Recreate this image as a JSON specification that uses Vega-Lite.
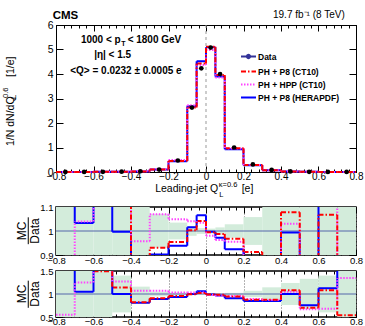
{
  "$schema": "https://vega.github.io/schema/vega-lite/v6.json",
  "background": "white",
  "padding": {"left": 1, "top": 9, "right": 0, "bottom": 0},
  "config": {
    "font": "Liberation Sans",
    "view": {"stroke": "black", "strokeWidth": 1},
    "axis": {"domain": false, "grid": false, "labelFont": "Liberation Sans", "labelFontSize": 10, "labelColor": "black", "tickColor": "black", "tickWidth": 1, "labelFlush": false, "labelOverlap": false, "format": "~g"}
  },
  "datasets": {
    "main_mc": [
      {"series":"PH + P8 (HERAPDF)","lo":-0.8,"hi":-0.7,"v":0.004},{"series":"PH + P8 (HERAPDF)","lo":-0.7,"hi":-0.6,"v":0.004},{"series":"PH + P8 (HERAPDF)","lo":-0.6,"hi":-0.5,"v":0.008},{"series":"PH + P8 (HERAPDF)","lo":-0.5,"hi":-0.4,"v":0.012},{"series":"PH + P8 (HERAPDF)","lo":-0.4,"hi":-0.3,"v":0.025},{"series":"PH + P8 (HERAPDF)","lo":-0.3,"hi":-0.2,"v":0.1},{"series":"PH + P8 (HERAPDF)","lo":-0.2,"hi":-0.1,"v":0.44},{"series":"PH + P8 (HERAPDF)","lo":-0.1,"hi":-0.05,"v":2.68},{"series":"PH + P8 (HERAPDF)","lo":-0.05,"hi":0,"v":4.52},{"series":"PH + P8 (HERAPDF)","lo":0,"hi":0.05,"v":5.09},{"series":"PH + P8 (HERAPDF)","lo":0.05,"hi":0.1,"v":3.9},{"series":"PH + P8 (HERAPDF)","lo":0.1,"hi":0.2,"v":0.93},{"series":"PH + P8 (HERAPDF)","lo":0.2,"hi":0.3,"v":0.28},{"series":"PH + P8 (HERAPDF)","lo":0.3,"hi":0.4,"v":0.07},{"series":"PH + P8 (HERAPDF)","lo":0.4,"hi":0.5,"v":0.02},{"series":"PH + P8 (HERAPDF)","lo":0.5,"hi":0.6,"v":0.007},{"series":"PH + P8 (HERAPDF)","lo":0.6,"hi":0.7,"v":0.005},{"series":"PH + P8 (HERAPDF)","lo":0.7,"hi":0.8,"v":0.004},
      {"series":"PH + HPP (CT10)","lo":-0.8,"hi":-0.7,"v":0.002},{"series":"PH + HPP (CT10)","lo":-0.7,"hi":-0.6,"v":0.005},{"series":"PH + HPP (CT10)","lo":-0.6,"hi":-0.5,"v":0.007},{"series":"PH + HPP (CT10)","lo":-0.5,"hi":-0.4,"v":0.013},{"series":"PH + HPP (CT10)","lo":-0.4,"hi":-0.3,"v":0.028},{"series":"PH + HPP (CT10)","lo":-0.3,"hi":-0.2,"v":0.11},{"series":"PH + HPP (CT10)","lo":-0.2,"hi":-0.1,"v":0.49},{"series":"PH + HPP (CT10)","lo":-0.1,"hi":-0.05,"v":2.72},{"series":"PH + HPP (CT10)","lo":-0.05,"hi":0,"v":4.37},{"series":"PH + HPP (CT10)","lo":0,"hi":0.05,"v":4.98},{"series":"PH + HPP (CT10)","lo":0.05,"hi":0.1,"v":3.86},{"series":"PH + HPP (CT10)","lo":0.1,"hi":0.2,"v":0.96},{"series":"PH + HPP (CT10)","lo":0.2,"hi":0.3,"v":0.29},{"series":"PH + HPP (CT10)","lo":0.3,"hi":0.4,"v":0.075},{"series":"PH + HPP (CT10)","lo":0.4,"hi":0.5,"v":0.021},{"series":"PH + HPP (CT10)","lo":0.5,"hi":0.6,"v":0.006},{"series":"PH + HPP (CT10)","lo":0.6,"hi":0.7,"v":0.003},{"series":"PH + HPP (CT10)","lo":0.7,"hi":0.8,"v":0.004},
      {"series":"PH + P8 (CT10)","lo":-0.8,"hi":-0.7,"v":0.004},{"series":"PH + P8 (CT10)","lo":-0.7,"hi":-0.6,"v":0.005},{"series":"PH + P8 (CT10)","lo":-0.6,"hi":-0.5,"v":0.007},{"series":"PH + P8 (CT10)","lo":-0.5,"hi":-0.4,"v":0.014},{"series":"PH + P8 (CT10)","lo":-0.4,"hi":-0.3,"v":0.025},{"series":"PH + P8 (CT10)","lo":-0.3,"hi":-0.2,"v":0.1},{"series":"PH + P8 (CT10)","lo":-0.2,"hi":-0.1,"v":0.45},{"series":"PH + P8 (CT10)","lo":-0.1,"hi":-0.05,"v":2.63},{"series":"PH + P8 (CT10)","lo":-0.05,"hi":0,"v":4.43},{"series":"PH + P8 (CT10)","lo":0,"hi":0.05,"v":5.11},{"series":"PH + P8 (CT10)","lo":0.05,"hi":0.1,"v":3.96},{"series":"PH + P8 (CT10)","lo":0.1,"hi":0.2,"v":0.97},{"series":"PH + P8 (CT10)","lo":0.2,"hi":0.3,"v":0.29},{"series":"PH + P8 (CT10)","lo":0.3,"hi":0.4,"v":0.075},{"series":"PH + P8 (CT10)","lo":0.4,"hi":0.5,"v":0.022},{"series":"PH + P8 (CT10)","lo":0.5,"hi":0.6,"v":0.007},{"series":"PH + P8 (CT10)","lo":0.6,"hi":0.7,"v":0.004},{"series":"PH + P8 (CT10)","lo":0.7,"hi":0.8,"v":0.002}
    ],
    "main_data": [
      {"x":-0.75,"y":0.003},{"x":-0.65,"y":0.004},{"x":-0.55,"y":0.006},{"x":-0.45,"y":0.012},{"x":-0.35,"y":0.03},{"x":-0.25,"y":0.1},{"x":-0.15,"y":0.47},{"x":-0.075,"y":2.63},{"x":-0.025,"y":4.23},{"x":0.025,"y":5.08},{"x":0.075,"y":4.0},{"x":0.15,"y":1.0},{"x":0.25,"y":0.31},{"x":0.35,"y":0.085},{"x":0.45,"y":0.022},{"x":0.55,"y":0.008},{"x":0.65,"y":0.004},{"x":0.75,"y":0.003}
    ],
    "r1": [
      {"series":"PH + P8 (HERAPDF)","lo":-0.8,"hi":-0.7,"v":1.2},{"series":"PH + P8 (HERAPDF)","lo":-0.7,"hi":-0.6,"v":1.033},{"series":"PH + P8 (HERAPDF)","lo":-0.6,"hi":-0.5,"v":1.2},{"series":"PH + P8 (HERAPDF)","lo":-0.5,"hi":-0.4,"v":0.997},{"series":"PH + P8 (HERAPDF)","lo":-0.4,"hi":-0.3,"v":0.8},{"series":"PH + P8 (HERAPDF)","lo":-0.3,"hi":-0.2,"v":0.902},{"series":"PH + P8 (HERAPDF)","lo":-0.2,"hi":-0.1,"v":0.939},{"series":"PH + P8 (HERAPDF)","lo":-0.1,"hi":-0.05,"v":1.016},{"series":"PH + P8 (HERAPDF)","lo":-0.05,"hi":0,"v":1.066},{"series":"PH + P8 (HERAPDF)","lo":0,"hi":0.05,"v":0.997},{"series":"PH + P8 (HERAPDF)","lo":0.05,"hi":0.1,"v":0.972},{"series":"PH + P8 (HERAPDF)","lo":0.1,"hi":0.2,"v":0.924},{"series":"PH + P8 (HERAPDF)","lo":0.2,"hi":0.3,"v":0.8},{"series":"PH + P8 (HERAPDF)","lo":0.3,"hi":0.4,"v":0.8},{"series":"PH + P8 (HERAPDF)","lo":0.4,"hi":0.5,"v":0.994},{"series":"PH + P8 (HERAPDF)","lo":0.5,"hi":0.6,"v":0.8},{"series":"PH + P8 (HERAPDF)","lo":0.6,"hi":0.7,"v":1.2},{"series":"PH + P8 (HERAPDF)","lo":0.7,"hi":0.8,"v":1.2},
      {"series":"PH + HPP (CT10)","lo":-0.8,"hi":-0.7,"v":0.8},{"series":"PH + HPP (CT10)","lo":-0.7,"hi":-0.6,"v":1.04},{"series":"PH + HPP (CT10)","lo":-0.6,"hi":-0.5,"v":1.2},{"series":"PH + HPP (CT10)","lo":-0.5,"hi":-0.4,"v":1.2},{"series":"PH + HPP (CT10)","lo":-0.4,"hi":-0.3,"v":0.957},{"series":"PH + HPP (CT10)","lo":-0.3,"hi":-0.2,"v":1.07},{"series":"PH + HPP (CT10)","lo":-0.2,"hi":-0.1,"v":1.049},{"series":"PH + HPP (CT10)","lo":-0.1,"hi":-0.05,"v":1.041},{"series":"PH + HPP (CT10)","lo":-0.05,"hi":0,"v":1.034},{"series":"PH + HPP (CT10)","lo":0,"hi":0.05,"v":0.98},{"series":"PH + HPP (CT10)","lo":0.05,"hi":0.1,"v":0.962},{"series":"PH + HPP (CT10)","lo":0.1,"hi":0.2,"v":0.955},{"series":"PH + HPP (CT10)","lo":0.2,"hi":0.3,"v":0.8},{"series":"PH + HPP (CT10)","lo":0.3,"hi":0.4,"v":0.8},{"series":"PH + HPP (CT10)","lo":0.4,"hi":0.5,"v":1.03},{"series":"PH + HPP (CT10)","lo":0.5,"hi":0.6,"v":0.8},{"series":"PH + HPP (CT10)","lo":0.6,"hi":0.7,"v":0.8},{"series":"PH + HPP (CT10)","lo":0.7,"hi":0.8,"v":1.2},
      {"series":"PH + P8 (CT10)","lo":-0.8,"hi":-0.7,"v":1.2},{"series":"PH + P8 (CT10)","lo":-0.7,"hi":-0.6,"v":1.2},{"series":"PH + P8 (CT10)","lo":-0.6,"hi":-0.5,"v":1.2},{"series":"PH + P8 (CT10)","lo":-0.5,"hi":-0.4,"v":1.2},{"series":"PH + P8 (CT10)","lo":-0.4,"hi":-0.3,"v":0.8},{"series":"PH + P8 (CT10)","lo":-0.3,"hi":-0.2,"v":0.93},{"series":"PH + P8 (CT10)","lo":-0.2,"hi":-0.1,"v":0.954},{"series":"PH + P8 (CT10)","lo":-0.1,"hi":-0.05,"v":1.003},{"series":"PH + P8 (CT10)","lo":-0.05,"hi":0,"v":1.042},{"series":"PH + P8 (CT10)","lo":0,"hi":0.05,"v":0.995},{"series":"PH + P8 (CT10)","lo":0.05,"hi":0.1,"v":0.988},{"series":"PH + P8 (CT10)","lo":0.1,"hi":0.2,"v":0.968},{"series":"PH + P8 (CT10)","lo":0.2,"hi":0.3,"v":0.912},{"series":"PH + P8 (CT10)","lo":0.3,"hi":0.4,"v":0.8},{"series":"PH + P8 (CT10)","lo":0.4,"hi":0.5,"v":1.078},{"series":"PH + P8 (CT10)","lo":0.5,"hi":0.6,"v":0.8},{"series":"PH + P8 (CT10)","lo":0.6,"hi":0.7,"v":1.068},{"series":"PH + P8 (CT10)","lo":0.7,"hi":0.8,"v":0.8}
    ],
    "r1band": [
      {"lo":-0.8,"hi":-0.7,"ylo":0.7,"yhi":1.3},{"lo":-0.7,"hi":-0.6,"ylo":0.7,"yhi":1.3},{"lo":-0.6,"hi":-0.5,"ylo":0.7,"yhi":1.3},{"lo":-0.5,"hi":-0.4,"ylo":0.7,"yhi":1.3},{"lo":-0.4,"hi":-0.3,"ylo":0.85,"yhi":1.15},{"lo":-0.3,"hi":-0.2,"ylo":0.93,"yhi":1.07},{"lo":-0.2,"hi":-0.1,"ylo":0.965,"yhi":1.035},{"lo":-0.1,"hi":-0.05,"ylo":0.98,"yhi":1.02},{"lo":-0.05,"hi":0,"ylo":0.988,"yhi":1.012},{"lo":0,"hi":0.05,"ylo":0.99,"yhi":1.01},{"lo":0.05,"hi":0.1,"ylo":0.985,"yhi":1.015},{"lo":0.1,"hi":0.2,"ylo":0.972,"yhi":1.028},{"lo":0.2,"hi":0.3,"ylo":0.942,"yhi":1.058},{"lo":0.3,"hi":0.4,"ylo":0.88,"yhi":1.12},{"lo":0.4,"hi":0.5,"ylo":0.8,"yhi":1.2},{"lo":0.5,"hi":0.6,"ylo":0.7,"yhi":1.3},{"lo":0.6,"hi":0.7,"ylo":0.7,"yhi":1.3},{"lo":0.7,"hi":0.8,"ylo":0.7,"yhi":1.3}
    ],
    "r2": [
      {"series":"PH + P8 (HERAPDF)","lo":-0.8,"hi":-0.7,"v":1.7},{"series":"PH + P8 (HERAPDF)","lo":-0.7,"hi":-0.6,"v":1.05},{"series":"PH + P8 (HERAPDF)","lo":-0.6,"hi":-0.5,"v":1.7},{"series":"PH + P8 (HERAPDF)","lo":-0.5,"hi":-0.4,"v":1.0},{"series":"PH + P8 (HERAPDF)","lo":-0.4,"hi":-0.3,"v":0.81},{"series":"PH + P8 (HERAPDF)","lo":-0.3,"hi":-0.2,"v":0.89},{"series":"PH + P8 (HERAPDF)","lo":-0.2,"hi":-0.1,"v":0.935},{"series":"PH + P8 (HERAPDF)","lo":-0.1,"hi":-0.05,"v":1.0},{"series":"PH + P8 (HERAPDF)","lo":-0.05,"hi":0,"v":1.06},{"series":"PH + P8 (HERAPDF)","lo":0,"hi":0.05,"v":0.99},{"series":"PH + P8 (HERAPDF)","lo":0.05,"hi":0.1,"v":0.965},{"series":"PH + P8 (HERAPDF)","lo":0.1,"hi":0.2,"v":0.91},{"series":"PH + P8 (HERAPDF)","lo":0.2,"hi":0.3,"v":0.85},{"series":"PH + P8 (HERAPDF)","lo":0.3,"hi":0.4,"v":0.85},{"series":"PH + P8 (HERAPDF)","lo":0.4,"hi":0.5,"v":1.0},{"series":"PH + P8 (HERAPDF)","lo":0.5,"hi":0.6,"v":0.755},{"series":"PH + P8 (HERAPDF)","lo":0.6,"hi":0.7,"v":1.125},{"series":"PH + P8 (HERAPDF)","lo":0.7,"hi":0.8,"v":1.7},
      {"series":"PH + HPP (CT10)","lo":-0.8,"hi":-0.7,"v":0.55},{"series":"PH + HPP (CT10)","lo":-0.7,"hi":-0.6,"v":1.25},{"series":"PH + HPP (CT10)","lo":-0.6,"hi":-0.5,"v":1.7},{"series":"PH + HPP (CT10)","lo":-0.5,"hi":-0.4,"v":1.27},{"series":"PH + HPP (CT10)","lo":-0.4,"hi":-0.3,"v":1.07},{"series":"PH + HPP (CT10)","lo":-0.3,"hi":-0.2,"v":1.07},{"series":"PH + HPP (CT10)","lo":-0.2,"hi":-0.1,"v":1.035},{"series":"PH + HPP (CT10)","lo":-0.1,"hi":-0.05,"v":1.03},{"series":"PH + HPP (CT10)","lo":-0.05,"hi":0,"v":1.03},{"series":"PH + HPP (CT10)","lo":0,"hi":0.05,"v":0.98},{"series":"PH + HPP (CT10)","lo":0.05,"hi":0.1,"v":0.96},{"series":"PH + HPP (CT10)","lo":0.1,"hi":0.2,"v":0.955},{"series":"PH + HPP (CT10)","lo":0.2,"hi":0.3,"v":0.89},{"series":"PH + HPP (CT10)","lo":0.3,"hi":0.4,"v":0.87},{"series":"PH + HPP (CT10)","lo":0.4,"hi":0.5,"v":1.05},{"series":"PH + HPP (CT10)","lo":0.5,"hi":0.6,"v":0.67},{"series":"PH + HPP (CT10)","lo":0.6,"hi":0.7,"v":0.68},{"series":"PH + HPP (CT10)","lo":0.7,"hi":0.8,"v":1.35},
      {"series":"PH + P8 (CT10)","lo":-0.8,"hi":-0.7,"v":1.7},{"series":"PH + P8 (CT10)","lo":-0.7,"hi":-0.6,"v":1.7},{"series":"PH + P8 (CT10)","lo":-0.6,"hi":-0.5,"v":1.495},{"series":"PH + P8 (CT10)","lo":-0.5,"hi":-0.4,"v":1.14},{"series":"PH + P8 (CT10)","lo":-0.4,"hi":-0.3,"v":0.82},{"series":"PH + P8 (CT10)","lo":-0.3,"hi":-0.2,"v":0.91},{"series":"PH + P8 (CT10)","lo":-0.2,"hi":-0.1,"v":0.955},{"series":"PH + P8 (CT10)","lo":-0.1,"hi":-0.05,"v":0.995},{"series":"PH + P8 (CT10)","lo":-0.05,"hi":0,"v":1.02},{"series":"PH + P8 (CT10)","lo":0,"hi":0.05,"v":0.99},{"series":"PH + P8 (CT10)","lo":0.05,"hi":0.1,"v":0.985},{"series":"PH + P8 (CT10)","lo":0.1,"hi":0.2,"v":0.945},{"series":"PH + P8 (CT10)","lo":0.2,"hi":0.3,"v":0.875},{"series":"PH + P8 (CT10)","lo":0.3,"hi":0.4,"v":0.875},{"series":"PH + P8 (CT10)","lo":0.4,"hi":0.5,"v":1.08},{"series":"PH + P8 (CT10)","lo":0.5,"hi":0.6,"v":0.7},{"series":"PH + P8 (CT10)","lo":0.6,"hi":0.7,"v":1.08},{"series":"PH + P8 (CT10)","lo":0.7,"hi":0.8,"v":0.54}
    ],
    "r2band": [
      {"lo":-0.8,"hi":-0.7,"ylo":0.4,"yhi":1.6},{"lo":-0.7,"hi":-0.6,"ylo":0.4,"yhi":1.6},{"lo":-0.6,"hi":-0.5,"ylo":0.4,"yhi":1.6},{"lo":-0.5,"hi":-0.4,"ylo":0.6,"yhi":1.4},{"lo":-0.4,"hi":-0.3,"ylo":0.84,"yhi":1.16},{"lo":-0.3,"hi":-0.2,"ylo":0.95,"yhi":1.05},{"lo":-0.2,"hi":-0.1,"ylo":0.97,"yhi":1.03},{"lo":-0.1,"hi":-0.05,"ylo":0.985,"yhi":1.015},{"lo":-0.05,"hi":0,"ylo":0.99,"yhi":1.01},{"lo":0,"hi":0.05,"ylo":0.99,"yhi":1.01},{"lo":0.05,"hi":0.1,"ylo":0.988,"yhi":1.012},{"lo":0.1,"hi":0.2,"ylo":0.975,"yhi":1.025},{"lo":0.2,"hi":0.3,"ylo":0.93,"yhi":1.07},{"lo":0.3,"hi":0.4,"ylo":0.855,"yhi":1.145},{"lo":0.4,"hi":0.5,"ylo":0.76,"yhi":1.24},{"lo":0.5,"hi":0.6,"ylo":0.67,"yhi":1.33},{"lo":0.6,"hi":0.7,"ylo":0.6,"yhi":1.4},{"lo":0.7,"hi":0.8,"ylo":0.4,"yhi":1.6}
    ]
  },
  "resolve": {"scale": {"color": "independent", "strokeDash": "independent"}},
  "bounds": "flush",
  "spacing": 35,
  "vconcat": [
    {
      "width": 300, "height": 147,
      "view": {"stroke": "black", "strokeWidth": 1},
      "resolve": {"axis": {"x": "independent", "y": "independent"}},
      "layer": [
        {
          "data": {"name": "main_mc"},
          "mark": {"type": "rule", "strokeWidth": 2},
          "encoding": {
            "x": {"field": "lo", "type": "quantitative", "scale": {"domain": [-0.8, 0.8], "nice": false, "zero": false}, "axis": {"orient": "bottom", "values": [-0.8,-0.6,-0.4,-0.2,0,0.2,0.4,0.6,0.8], "tickSize": -6, "labelPadding": 5, "title": null}},
            "x2": {"field": "hi"},
            "y": {"field": "v", "type": "quantitative", "scale": {"domain": [0, 6], "nice": false, "zero": false}, "axis": {"orient": "left", "values": [0,1,2,3,4,5,6], "tickSize": -7, "labelPadding": 10, "labelFontSize": 10.5, "title": null}},
            "color": {"field": "series", "type": "nominal", "scale": {"domain": ["Data", "PH + P8 (CT10)", "PH + HPP (CT10)", "PH + P8 (HERAPDF)"], "range": ["#333399", "#ff0000", "#ff44ff", "#0000ff"]},
              "legend": {"title": null, "orient": "none", "legendX": 184, "legendY": 23, "padding": 0, "symbolType": "stroke", "symbolSize": 225, "symbolStrokeWidth": 2, "labelFont": "Liberation Sans", "labelFontWeight": "bold", "labelFontSize": 8.5, "labelColor": "black", "rowPadding": -6, "labelOffset": 1,
                "encode": {"symbols": {"update": {"shape": {"signal": "datum.value === 'Data' ? 'M-1,0H1M-0.22,0A0.22,0.22 0 1,0 0.22,0A0.22,0.22 0 1,0 -0.22,0' : 'stroke'"}, "fill": {"signal": "datum.value === 'Data' ? 'black' : 'transparent'"}}}}}},
            "strokeDash": {"field": "series", "type": "nominal", "scale": {"domain": ["Data", "PH + P8 (CT10)", "PH + HPP (CT10)", "PH + P8 (HERAPDF)"], "range": [[1, 0], [5, 2, 1.5, 2], [1.5, 1.5], [1, 0]]},
              "legend": {"title": null, "orient": "none", "legendX": 184, "legendY": 23, "padding": 0, "symbolType": "stroke", "symbolSize": 225, "symbolStrokeWidth": 2, "labelFont": "Liberation Sans", "labelFontWeight": "bold", "labelFontSize": 8.5, "labelColor": "black", "rowPadding": -6, "labelOffset": 1,
                "encode": {"symbols": {"update": {"shape": {"signal": "datum.value === 'Data' ? 'M-1,0H1M-0.22,0A0.22,0.22 0 1,0 0.22,0A0.22,0.22 0 1,0 -0.22,0' : 'stroke'"}, "fill": {"signal": "datum.value === 'Data' ? 'black' : 'transparent'"}}}}}}
          }
        },
        {
          "data": {"values": [{}]},
          "mark": {"type": "rule", "color": "#999999", "strokeDash": [3, 3], "strokeWidth": 1},
          "encoding": {
            "x": {"datum": 0, "type": "quantitative", "axis": null},
            "y": {"datum": 0, "type": "quantitative", "axis": null},
            "y2": {"datum": 6}
          }
        },
        {
          "data": {"name": "main_mc"},
          "transform": [
            {"window": [{"op": "lag", "field": "v", "as": "prev"}], "groupby": ["series"], "sort": [{"field": "lo", "order": "ascending"}]},
            {"filter": "isValid(datum.prev)"}
          ],
          "mark": {"type": "rule", "strokeWidth": 2},
          "encoding": {
            "x": {"field": "lo", "type": "quantitative", "axis": {"orient": "top", "values": [-0.8,-0.6,-0.4,-0.2,0,0.2,0.4,0.6,0.8], "tickSize": -6, "labels": false, "title": null}},
            "y": {"field": "prev", "type": "quantitative", "axis": {"orient": "right", "values": [0,1,2,3,4,5,6], "tickSize": -7, "labels": false, "title": null}},
            "y2": {"field": "v"},
            "color": {"field": "series", "type": "nominal", "legend": null},
            "strokeDash": {"field": "series", "type": "nominal", "legend": null}
          }
        },
        {
          "data": {"name": "main_data"},
          "mark": {"type": "circle", "color": "black", "opacity": 1, "size": 22},
          "encoding": {
            "x": {"field": "x", "type": "quantitative", "axis": {"orient": "bottom", "values": [-0.8,-0.76,-0.72,-0.68,-0.64,-0.6,-0.56,-0.52,-0.48,-0.44,-0.4,-0.36,-0.32,-0.28,-0.24,-0.2,-0.16,-0.12,-0.08,-0.04,0,0.04,0.08,0.12,0.16,0.2,0.24,0.28,0.32,0.36,0.4,0.44,0.48,0.52,0.56,0.6,0.64,0.68,0.72,0.76,0.8], "tickSize": -3, "labels": false, "title": null}},
            "y": {"field": "y", "type": "quantitative", "axis": null}
          }
        },
        {"data": {"values": [{}]}, "mark": {"type": "text", "text": "CMS", "fontWeight": "bold", "fontSize": 11.5, "align": "left", "baseline": "middle"},
          "encoding": {"x": {"datum": -0.818, "type": "quantitative", "axis": {"orient": "top", "values": [-0.8,-0.76,-0.72,-0.68,-0.64,-0.6,-0.56,-0.52,-0.48,-0.44,-0.4,-0.36,-0.32,-0.28,-0.24,-0.2,-0.16,-0.12,-0.08,-0.04,0,0.04,0.08,0.12,0.16,0.2,0.24,0.28,0.32,0.36,0.4,0.44,0.48,0.52,0.56,0.6,0.64,0.68,0.72,0.76,0.8], "tickSize": -3, "labels": false, "title": null}},
            "y": {"datum": 6.367, "type": "quantitative", "axis": null}}},
        {"data": {"values": [{}]}, "mark": {"type": "text", "text": "19.7 fb⁻¹ (8 TeV)", "fontSize": 10, "align": "right", "baseline": "middle"},
          "encoding": {"x": {"datum": 0.74, "type": "quantitative", "axis": null}, "y": {"datum": 6.41, "type": "quantitative", "axis": null}}},
        {"data": {"values": [{}]}, "mark": {"type": "text", "text": "1000 < p", "fontWeight": "bold", "fontSize": 10, "align": "right", "baseline": "middle"},
          "encoding": {"x": {"datum": -0.455, "type": "quantitative", "axis": null}, "y": {"datum": 5.388, "type": "quantitative", "axis": null}}},
        {"data": {"values": [{}]}, "mark": {"type": "text", "text": "T", "fontWeight": "bold", "fontSize": 7, "align": "left", "baseline": "middle"},
          "encoding": {"x": {"datum": -0.452, "type": "quantitative", "axis": null}, "y": {"datum": 5.224, "type": "quantitative", "axis": null}}},
        {"data": {"values": [{}]}, "mark": {"type": "text", "text": "< 1800 GeV", "fontWeight": "bold", "fontSize": 10, "align": "left", "baseline": "middle"},
          "encoding": {"x": {"datum": -0.418, "type": "quantitative", "axis": null}, "y": {"datum": 5.388, "type": "quantitative", "axis": null}}},
        {"data": {"values": [{}]}, "mark": {"type": "text", "text": "|η| < 1.5", "fontWeight": "bold", "fontSize": 10, "align": "center", "baseline": "middle"},
          "encoding": {"x": {"datum": -0.498, "type": "quantitative", "axis": null}, "y": {"datum": 4.776, "type": "quantitative", "axis": null}}},
        {"data": {"values": [{}]}, "mark": {"type": "text", "text": "<Q> = 0.0232 ± 0.0005 e", "fontWeight": "bold", "fontSize": 10, "align": "center", "baseline": "middle"},
          "encoding": {"x": {"datum": -0.427, "type": "quantitative", "axis": null}, "y": {"datum": 4.135, "type": "quantitative", "axis": null}}},
        {"data": {"values": [{}]}, "mark": {"type": "text", "text": "Leading-jet Q", "fontSize": 10.5, "align": "left", "baseline": "middle"},
          "encoding": {"x": {"datum": -0.271, "type": "quantitative", "axis": null}, "y": {"datum": -0.694, "type": "quantitative", "axis": null}}},
        {"data": {"values": [{}]}, "mark": {"type": "text", "text": "κ=0.6", "fontSize": 7.5, "align": "left", "baseline": "middle"},
          "encoding": {"x": {"datum": 0.068, "type": "quantitative", "axis": null}, "y": {"datum": -0.551, "type": "quantitative", "axis": null}}},
        {"data": {"values": [{}]}, "mark": {"type": "text", "text": "L", "fontSize": 7.5, "align": "left", "baseline": "middle"},
          "encoding": {"x": {"datum": 0.07, "type": "quantitative", "axis": null}, "y": {"datum": -0.959, "type": "quantitative", "axis": null}}},
        {"data": {"values": [{}]}, "mark": {"type": "text", "text": "[e]", "fontSize": 10.5, "align": "left", "baseline": "middle"},
          "encoding": {"x": {"datum": 0.19, "type": "quantitative", "axis": null}, "y": {"datum": -0.694, "type": "quantitative", "axis": null}}},
        {"data": {"values": [{}]}, "mark": {"type": "text", "text": "1/N dN/dQ", "fontSize": 10.5, "align": "left", "baseline": "middle", "angle": 270},
          "encoding": {"x": {"datum": -1.0416, "type": "quantitative", "axis": null}, "y": {"datum": 1.061, "type": "quantitative", "axis": null}}},
        {"data": {"values": [{}]}, "mark": {"type": "text", "text": "L", "fontSize": 7.5, "align": "left", "baseline": "middle", "angle": 270},
          "encoding": {"x": {"datum": -1.0256, "type": "quantitative", "axis": null}, "y": {"datum": 2.98, "type": "quantitative", "axis": null}}},
        {"data": {"values": [{}]}, "mark": {"type": "text", "text": "0.6", "fontSize": 7.5, "align": "left", "baseline": "middle", "angle": 270},
          "encoding": {"x": {"datum": -1.0656, "type": "quantitative", "axis": null}, "y": {"datum": 3.02, "type": "quantitative", "axis": null}}},
        {"data": {"values": [{}]}, "mark": {"type": "text", "text": "[1/e]", "fontSize": 10.5, "align": "left", "baseline": "middle", "angle": 270},
          "encoding": {"x": {"datum": -1.0416, "type": "quantitative", "axis": null}, "y": {"datum": 3.878, "type": "quantitative", "axis": null}}}
      ]
    },
    {
      "bounds": "flush",
      "spacing": 16,
      "vconcat": [
        {
          "width": 300, "height": 48,
          "view": {"stroke": "black", "strokeWidth": 1.5},
          "resolve": {"axis": {"x": "independent", "y": "independent"}},
          "layer": [
            {
              "data": {"name": "r1band"},
              "mark": {"type": "rect", "color": "#d3ecdb", "clip": true},
              "encoding": {
                "x": {"field": "lo", "type": "quantitative", "scale": {"domain": [-0.8, 0.8], "nice": false, "zero": false}, "axis": {"orient": "bottom", "values": [-0.8,-0.6,-0.4,-0.2,0,0.2,0.4,0.6,0.8], "tickSize": -6, "labelPadding": 6, "labelFontSize": 9.5, "grid": true, "gridDash": [1, 2], "gridColor": "#666666", "gridWidth": 1, "title": null}},
                "x2": {"field": "hi"},
                "y": {"field": "ylo", "type": "quantitative", "scale": {"domain": [0.9, 1.1], "nice": false, "zero": false}, "axis": {"orient": "left", "values": [0.9, 1, 1.1], "tickSize": -7, "labelPadding": 10, "labelFontSize": 9.5, "title": null}},
                "y2": {"field": "yhi"}
              }
            },
            {
              "data": {"values": [{}]},
              "mark": {"type": "rule", "color": "#5566aa", "strokeWidth": 1},
              "encoding": {"y": {"datum": 1, "type": "quantitative", "axis": null}}
            },
            {
              "data": {"name": "r1"},
              "mark": {"type": "rule", "strokeWidth": 2, "clip": true},
              "encoding": {
                "x": {"field": "lo", "type": "quantitative", "scale": {"domain": [-0.8, 0.8], "nice": false, "zero": false}, "axis": {"orient": "bottom", "values": [-0.8,-0.76,-0.72,-0.68,-0.64,-0.6,-0.56,-0.52,-0.48,-0.44,-0.4,-0.36,-0.32,-0.28,-0.24,-0.2,-0.16,-0.12,-0.08,-0.04,0,0.04,0.08,0.12,0.16,0.2,0.24,0.28,0.32,0.36,0.4,0.44,0.48,0.52,0.56,0.6,0.64,0.68,0.72,0.76,0.8], "tickSize": -3, "labels": false, "title": null}},
                "x2": {"field": "hi"},
                "y": {"field": "v", "type": "quantitative", "scale": {"domain": [0.9, 1.1], "nice": false, "zero": false}, "axis": {"orient": "left", "values": [0.9,0.92,0.94,0.96,0.98,1,1.02,1.04,1.06,1.08,1.1], "tickSize": -3.5, "labels": false, "title": null}},
                "color": {"field": "series", "type": "nominal", "scale": {"domain": ["Data", "PH + P8 (CT10)", "PH + HPP (CT10)", "PH + P8 (HERAPDF)"], "range": ["#333399", "#ff0000", "#ff44ff", "#0000ff"]}, "legend": null},
                "strokeDash": {"field": "series", "type": "nominal", "scale": {"domain": ["Data", "PH + P8 (CT10)", "PH + HPP (CT10)", "PH + P8 (HERAPDF)"], "range": [[1, 0], [5, 2, 1.5, 2], [1.5, 1.5], [1, 0]]}, "legend": null}
              }
            },
            {
              "data": {"name": "r1"},
              "transform": [
                {"window": [{"op": "lag", "field": "v", "as": "prev"}], "groupby": ["series"], "sort": [{"field": "lo", "order": "ascending"}]},
                {"filter": "isValid(datum.prev)"}
              ],
              "mark": {"type": "rule", "strokeWidth": 2, "clip": true},
              "encoding": {
                "x": {"field": "lo", "type": "quantitative", "scale": {"domain": [-0.8, 0.8], "nice": false, "zero": false}, "axis": {"orient": "top", "values": [-0.8,-0.6,-0.4,-0.2,0,0.2,0.4,0.6,0.8], "tickSize": -6, "labels": false, "title": null}},
                "y": {"field": "prev", "type": "quantitative", "scale": {"domain": [0.9, 1.1], "nice": false, "zero": false}, "axis": {"orient": "right", "values": [0.9, 1, 1.1], "tickSize": -7, "labels": false, "title": null}},
                "y2": {"field": "v"},
                "color": {"field": "series", "type": "nominal", "legend": null},
                "strokeDash": {"field": "series", "type": "nominal", "legend": null}
              }
            },
            {"data": {"values": [{}]}, "mark": {"type": "text", "text": "MC", "fontSize": 12, "align": "center", "baseline": "middle", "angle": 270},
              "encoding": {
                "x": {"datum": -0.983, "type": "quantitative", "scale": {"domain": [-0.8, 0.8], "nice": false, "zero": false}, "axis": {"orient": "top", "values": [-0.8,-0.76,-0.72,-0.68,-0.64,-0.6,-0.56,-0.52,-0.48,-0.44,-0.4,-0.36,-0.32,-0.28,-0.24,-0.2,-0.16,-0.12,-0.08,-0.04,0,0.04,0.08,0.12,0.16,0.2,0.24,0.28,0.32,0.36,0.4,0.44,0.48,0.52,0.56,0.6,0.64,0.68,0.72,0.76,0.8], "tickSize": -3, "labels": false, "title": null}},
                "y": {"datum": 1, "type": "quantitative", "scale": {"domain": [0.9, 1.1], "nice": false, "zero": false}, "axis": {"orient": "right", "values": [0.9,0.92,0.94,0.96,0.98,1,1.02,1.04,1.06,1.08,1.1], "tickSize": -3.5, "labels": false, "title": null}}
              }},
            {"data": {"values": [{}]}, "mark": {"type": "text", "text": "Data", "fontSize": 12, "align": "center", "baseline": "middle", "angle": 270},
              "encoding": {"x": {"datum": -0.911, "type": "quantitative", "axis": null}, "y": {"datum": 1, "type": "quantitative", "axis": null}}},
            {"data": {"values": [{}]}, "mark": {"type": "rule", "color": "black", "strokeWidth": 1},
              "encoding": {"x": {"datum": -0.948, "type": "quantitative", "axis": null}, "y": {"datum": 0.945, "type": "quantitative", "axis": null}, "y2": {"datum": 1.057}}}
          ]
        },
        {
          "width": 300, "height": 46,
          "view": {"stroke": "black", "strokeWidth": 1.5},
          "resolve": {"axis": {"x": "independent", "y": "independent"}},
          "layer": [
            {
              "data": {"name": "r2band"},
              "mark": {"type": "rect", "color": "#d3ecdb", "clip": true},
              "encoding": {
                "x": {"field": "lo", "type": "quantitative", "scale": {"domain": [-0.8, 0.8], "nice": false, "zero": false}, "axis": {"orient": "bottom", "values": [-0.8,-0.6,-0.4,-0.2,0,0.2,0.4,0.6,0.8], "tickSize": -6, "labelPadding": 5, "labelFontSize": 9.5, "grid": true, "gridDash": [1, 2], "gridColor": "#666666", "gridWidth": 1, "title": null}},
                "x2": {"field": "hi"},
                "y": {"field": "ylo", "type": "quantitative", "scale": {"domain": [0.5, 1.5], "nice": false, "zero": false}, "axis": {"orient": "left", "values": [0.5, 1, 1.5], "tickSize": -7, "labelPadding": 10, "labelFontSize": 9.5, "title": null}},
                "y2": {"field": "yhi"}
              }
            },
            {
              "data": {"values": [{}]},
              "mark": {"type": "rule", "color": "#5566aa", "strokeWidth": 1},
              "encoding": {"y": {"datum": 1, "type": "quantitative", "axis": null}}
            },
            {
              "data": {"name": "r2"},
              "mark": {"type": "rule", "strokeWidth": 2, "clip": true},
              "encoding": {
                "x": {"field": "lo", "type": "quantitative", "scale": {"domain": [-0.8, 0.8], "nice": false, "zero": false}, "axis": {"orient": "bottom", "values": [-0.8,-0.76,-0.72,-0.68,-0.64,-0.6,-0.56,-0.52,-0.48,-0.44,-0.4,-0.36,-0.32,-0.28,-0.24,-0.2,-0.16,-0.12,-0.08,-0.04,0,0.04,0.08,0.12,0.16,0.2,0.24,0.28,0.32,0.36,0.4,0.44,0.48,0.52,0.56,0.6,0.64,0.68,0.72,0.76,0.8], "tickSize": -3, "labels": false, "title": null}},
                "x2": {"field": "hi"},
                "y": {"field": "v", "type": "quantitative", "scale": {"domain": [0.5, 1.5], "nice": false, "zero": false}, "axis": {"orient": "left", "values": [0.5,0.6,0.7,0.8,0.9,1,1.1,1.2,1.3,1.4,1.5], "tickSize": -3.5, "labels": false, "title": null}},
                "color": {"field": "series", "type": "nominal", "scale": {"domain": ["Data", "PH + P8 (CT10)", "PH + HPP (CT10)", "PH + P8 (HERAPDF)"], "range": ["#333399", "#ff0000", "#ff44ff", "#0000ff"]}, "legend": null},
                "strokeDash": {"field": "series", "type": "nominal", "scale": {"domain": ["Data", "PH + P8 (CT10)", "PH + HPP (CT10)", "PH + P8 (HERAPDF)"], "range": [[1, 0], [5, 2, 1.5, 2], [1.5, 1.5], [1, 0]]}, "legend": null}
              }
            },
            {
              "data": {"name": "r2"},
              "transform": [
                {"window": [{"op": "lag", "field": "v", "as": "prev"}], "groupby": ["series"], "sort": [{"field": "lo", "order": "ascending"}]},
                {"filter": "isValid(datum.prev)"}
              ],
              "mark": {"type": "rule", "strokeWidth": 2, "clip": true},
              "encoding": {
                "x": {"field": "lo", "type": "quantitative", "scale": {"domain": [-0.8, 0.8], "nice": false, "zero": false}, "axis": {"orient": "top", "values": [-0.8,-0.6,-0.4,-0.2,0,0.2,0.4,0.6,0.8], "tickSize": -6, "labels": false, "title": null}},
                "y": {"field": "prev", "type": "quantitative", "scale": {"domain": [0.5, 1.5], "nice": false, "zero": false}, "axis": {"orient": "right", "values": [0.5, 1, 1.5], "tickSize": -7, "labels": false, "title": null}},
                "y2": {"field": "v"},
                "color": {"field": "series", "type": "nominal", "legend": null},
                "strokeDash": {"field": "series", "type": "nominal", "legend": null}
              }
            },
            {"data": {"values": [{}]}, "mark": {"type": "text", "text": "MC", "fontSize": 12, "align": "center", "baseline": "middle", "angle": 270},
              "encoding": {
                "x": {"datum": -0.983, "type": "quantitative", "scale": {"domain": [-0.8, 0.8], "nice": false, "zero": false}, "axis": {"orient": "top", "values": [-0.8,-0.76,-0.72,-0.68,-0.64,-0.6,-0.56,-0.52,-0.48,-0.44,-0.4,-0.36,-0.32,-0.28,-0.24,-0.2,-0.16,-0.12,-0.08,-0.04,0,0.04,0.08,0.12,0.16,0.2,0.24,0.28,0.32,0.36,0.4,0.44,0.48,0.52,0.56,0.6,0.64,0.68,0.72,0.76,0.8], "tickSize": -3, "labels": false, "title": null}},
                "y": {"datum": 1, "type": "quantitative", "scale": {"domain": [0.5, 1.5], "nice": false, "zero": false}, "axis": {"orient": "right", "values": [0.5,0.6,0.7,0.8,0.9,1,1.1,1.2,1.3,1.4,1.5], "tickSize": -3.5, "labels": false, "title": null}}
              }},
            {"data": {"values": [{}]}, "mark": {"type": "text", "text": "Data", "fontSize": 12, "align": "center", "baseline": "middle", "angle": 270},
              "encoding": {"x": {"datum": -0.911, "type": "quantitative", "axis": null}, "y": {"datum": 1, "type": "quantitative", "axis": null}}},
            {"data": {"values": [{}]}, "mark": {"type": "rule", "color": "black", "strokeWidth": 1},
              "encoding": {"x": {"datum": -0.948, "type": "quantitative", "axis": null}, "y": {"datum": 0.7, "type": "quantitative", "axis": null}, "y2": {"datum": 1.29}}}
          ]
        }
      ]
    }
  ]
}
